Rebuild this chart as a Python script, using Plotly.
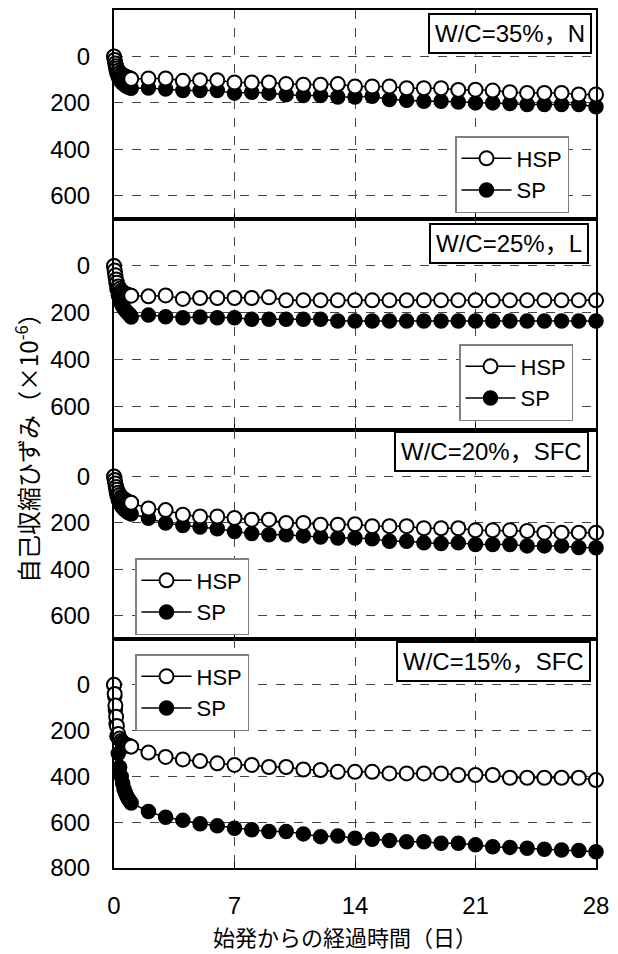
import plotly.graph_objects as go
from plotly.subplots import make_subplots

# ---------------- data ----------------
TIME = [0, 0.04, 0.08, 0.125, 0.17, 0.25, 0.33, 0.42, 0.5, 0.58, 0.67, 0.75, 0.83, 0.92,
        1, 2, 3, 4, 5, 6, 7, 8, 9, 10, 11, 12, 13, 14,
        15, 16, 17, 18, 19, 20, 21, 22, 23, 24, 25, 26, 27, 28]

PANEL_LABELS = ["W/C=35%，N", "W/C=25%，L", "W/C=20%，SFC", "W/C=15%，SFC"]
SERIES_NAMES = ["HSP", "SP"]

HSP_35N = [0, 15, 30, 42, 52, 62, 70, 76, 80, 84, 87, 90, 92, 94,
           97, 95, 95, 105, 102, 102, 112, 112, 112, 119, 122, 122, 119, 129,
           129, 129, 137, 137, 137, 144, 143, 147, 154, 157, 157, 157, 164, 164]
SP_35N = [0, 20, 40, 58, 72, 88, 100, 108, 115, 120, 125, 129, 132, 135,
          137, 136, 140, 147, 147, 147, 158, 154, 158, 165, 168, 168, 175, 175,
          171, 185, 189, 193, 193, 196, 200, 200, 203, 207, 207, 207, 207, 217]

HSP_25L = [0, 20, 40, 58, 72, 88, 98, 106, 112, 116, 120, 123, 125, 126,
           127, 130, 126, 141, 137, 137, 137, 137, 134, 147, 147, 147, 147, 147,
           147, 147, 147, 147, 147, 147, 147, 147, 147, 147, 147, 147, 147, 147]
SP_25L = [0, 25, 50, 75, 98, 125, 145, 160, 172, 182, 190, 197, 203, 208,
          218, 210, 217, 221, 218, 221, 221, 228, 228, 228, 228, 228, 235, 235,
          235, 235, 235, 235, 235, 235, 235, 235, 235, 235, 235, 235, 235, 235]

HSP_20SFC = [0, 15, 30, 45, 57, 70, 80, 88, 94, 99, 103, 107, 110, 112,
             113, 138, 145, 165, 172, 172, 179, 186, 186, 200, 200, 208, 208, 206,
             214, 214, 214, 223, 223, 223, 232, 232, 232, 235, 242, 242, 242, 242]
SP_20SFC = [0, 20, 42, 62, 80, 100, 115, 125, 133, 140, 146, 151, 155, 158,
            162, 180, 201, 211, 218, 225, 237, 246, 251, 251, 256, 261, 265, 265,
            268, 279, 279, 286, 289, 286, 293, 293, 293, 299, 299, 299, 306, 307]

HSP_15SFC = [0, 40, 90, 140, 180, 215, 235, 245, 252, 257, 261, 264, 266, 268,
             270, 296, 315, 326, 333, 343, 350, 350, 359, 359, 370, 372, 380, 380,
             380, 387, 387, 387, 387, 394, 394, 394, 406, 406, 406, 406, 406, 416]
SP_15SFC = [0, 50, 110, 170, 225, 300, 360, 400, 430, 455, 472, 487, 498, 508,
            516, 553, 578, 592, 607, 616, 626, 633, 641, 641, 651, 663, 660, 670,
            674, 680, 685, 685, 692, 692, 699, 707, 710, 714, 718, 721, 724, 729]

PANELS = [(HSP_35N, SP_35N), (HSP_25L, SP_25L), (HSP_20SFC, SP_20SFC), (HSP_15SFC, SP_15SFC)]

X_TICKS = [0, 7, 14, 21, 28]
Y_TICKS_SMALL = [0, 200, 400, 600]
Y_TICKS_LARGE = [0, 200, 400, 600, 800]

X_TITLE = "始発からの経過時間（日）"
Y_TITLE = "自己収縮ひずみ（×10<sup>-6</sup>）"

# ---------------- styling ----------------
NUM_FONT = "Liberation Sans, Arial, Noto Sans CJK JP, sans-serif"
CJK_FONT = "Noto Sans CJK JP, sans-serif"

fig = make_subplots(rows=4, cols=1, shared_xaxes=True, vertical_spacing=0,
                    row_heights=[209, 211, 209, 229])

legend_names = ["legend", "legend2", "legend3", "legend4"]
for i, (hsp, sp) in enumerate(PANELS):
    row = i + 1
    fig.add_trace(go.Scatter(
        x=TIME, y=sp, name=SERIES_NAMES[1], mode="lines+markers",
        line=dict(color="black", width=1.5),
        marker=dict(symbol="circle", size=14, color="black", line=dict(color="black", width=1.5)),
        cliponaxis=False, legend=legend_names[i], legendrank=2,
    ), row=row, col=1)
    fig.add_trace(go.Scatter(
        x=TIME, y=hsp, name=SERIES_NAMES[0], mode="lines+markers",
        line=dict(color="black", width=1.5),
        marker=dict(symbol="circle", size=14, color="white", line=dict(color="black", width=2)),
        cliponaxis=False, legend=legend_names[i], legendrank=1,
    ), row=row, col=1)

for row in range(1, 5):
    fig.update_xaxes(
        range=[0, 28], tickvals=X_TICKS, showgrid=True, gridcolor="#444",
        griddash="dash", gridwidth=1, showline=True, linecolor="black", linewidth=2,
        mirror=True, ticks="inside", ticklen=6, tickcolor="black", zeroline=False,
        showticklabels=(row == 4), tickfont=dict(family=NUM_FONT, size=24, color="black"),
        ticklabelstandoff=15, row=row, col=1)
    big = row == 4
    fig.update_yaxes(
        range=[800, -200] if big else [700, -200],
        tickvals=Y_TICKS_LARGE if big else Y_TICKS_SMALL,
        showgrid=True, gridcolor="#444", griddash="dash", gridwidth=1,
        showline=True, linecolor="black", linewidth=2, mirror=True, ticks="",
        zeroline=False, tickfont=dict(family=NUM_FONT, size=24, color="black"),
        ticklabelstandoff=17, row=row, col=1)

W = 618
H = 954
ML, MR, MT, MB = 114, 22, 10, 86
PW = W - ML - MR
PH = H - MT - MB


def px(xp):
    return (xp - ML) / PW


def py(yp):
    return (H - MB - yp) / PH


legend_pos = [(455, 136), (459, 344), (135, 558), (135, 654)]
for name, (lx, ly) in zip(legend_names, legend_pos):
    fig.update_layout({name: dict(
        x=px(lx), y=py(ly), xanchor="left", yanchor="top", xref="paper", yref="paper",
        bgcolor="white", bordercolor="#808080", borderwidth=1.5,
        font=dict(family=NUM_FONT, size=22, color="black"),
        itemwidth=50, tracegroupgap=0, traceorder="normal",
    )})

label_pos = [(592, 13), (589, 223), (589, 431), (591, 641)]
annotations = []
for text, (ax, ay) in zip(PANEL_LABELS, label_pos):
    annotations.append(dict(
        text=text, x=px(ax), y=py(ay), xref="paper", yref="paper",
        xanchor="right", yanchor="top", showarrow=False,
        font=dict(family=NUM_FONT, size=24, color="black"),
        bgcolor="white", bordercolor="black", borderwidth=2, borderpad=5,
    ))

annotations.append(dict(
    text=X_TITLE, x=px(345), y=py(936), xref="paper", yref="paper",
    xanchor="center", yanchor="middle", showarrow=False,
    font=dict(family=CJK_FONT, size=22, color="black"),
))
annotations.append(dict(
    text=Y_TITLE, x=px(27), y=py(442), xref="paper", yref="paper",
    xanchor="center", yanchor="middle", showarrow=False, textangle=-90,
    font=dict(family=CJK_FONT, size=24, color="black"),
))

fig.update_layout(
    width=W, height=H,
    margin=dict(l=ML, r=MR, t=MT, b=MB, autoexpand=False),
    paper_bgcolor="white", plot_bgcolor="white",
    showlegend=True, annotations=annotations,
)

fig.write_html("out.html")
